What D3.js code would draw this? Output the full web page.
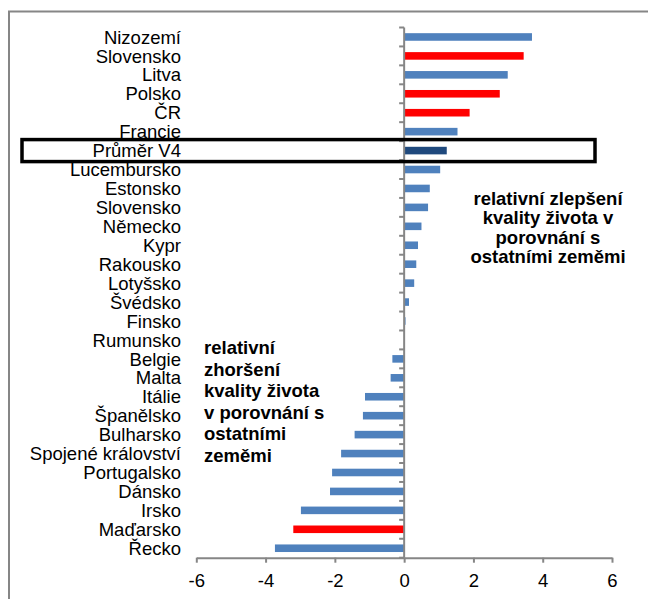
<!DOCTYPE html>
<html>
<head>
<meta charset="utf-8">
<script src="https://cdn.jsdelivr.net/npm/d3@7"></script>
<style>
  body { margin: 0; background: #fff; }
  text { font-family: "Liberation Sans", Arial, sans-serif; }
</style>
</head>
<body>
<div class="chart"></div>
<script>
// zeme shora dolu, jak jsou v grafu
var categories = ["Nizozemí", "Slovensko", "Litva", "Polsko", "ČR", "Francie", "Průměr V4",
  "Lucembursko", "Estonsko", "Slovensko", "Německo", "Kypr", "Rakousko", "Lotyšsko",
  "Švédsko", "Finsko", "Rumunsko", "Belgie", "Malta", "Itálie", "Španělsko", "Bulharsko",
  "Spojené království", "Portugalsko", "Dánsko", "Irsko", "Maďarsko", "Řecko"];

var values = [3.69, 3.45, 2.99, 2.76, 1.89, 1.54, 1.23,
  1.04, 0.74, 0.69, 0.50, 0.40, 0.35, 0.29,
  0.14, 0.04, 0, -0.34, -0.39, -1.13, -1.19, -1.43,
  -1.82, -2.08, -2.14, -2.98, -3.20, -3.73];

// v4 = cervene, avg = prumer V4
var groups = ["eu", "v4", "eu", "v4", "v4", "eu", "avg",
  "eu", "eu", "eu", "eu", "eu", "eu", "eu",
  "eu", "eu", "eu", "eu", "eu", "eu", "eu", "eu",
  "eu", "eu", "eu", "eu", "v4", "eu"];

var xTicks = [-6, -4, -2, 0, 2, 4, 6];

var noteRight = ["relativní zlepšení", "kvality života v", "porovnání s", "ostatními zeměmi"];
var noteLeft = ["relativní", "zhoršení", "kvality života", "v porovnání s", "ostatními", "zeměmi"];

var width = 648,
    height = 599,
    plot = {left: 196.3, right: 612, top: 27.5, bottom: 557.7},
    axisColor = "#868686",
    fontSize = 18.5;

var svg = d3.select(".chart").append("svg")
  .attr("width", width)
  .attr("height", height);

// ramecek grafu (pravy a spodni okraj je mimo obrazek)
svg.append("path")
  .attr("d", `M9,${height + 5}V11.5H${width + 5}`)
  .attr("fill", "none")
  .attr("stroke", axisColor)
  .attr("stroke-width", 2);

const x = d3.scaleLinear()
  .domain([-6, 6])
  .range([plot.left, plot.right]);

const y = d3.scaleBand()
  .domain(d3.range(categories.length))
  .range([plot.top, plot.bottom])
  .paddingInner(0.6)
  .paddingOuter(0.3);

const color = d3.scaleOrdinal()
  .domain(["eu", "v4", "avg"])
  .range(["#4F81BD", "#FF0000", "#1F497D"]);

// sloupce
svg.append("g")
  .attr("class", "bars")
  .selectAll("rect")
  .data(values)
  .enter().append("rect")
  .attr("x", d => x(Math.min(0, d)))
  .attr("y", (d, i) => y(i))
  .attr("width", d => Math.abs(x(d) - x(0)))
  .attr("height", y.bandwidth())
  .attr("fill", (d, i) => color(groups[i]));

// osa x
var xAxis = svg.append("g")
  .attr("transform", `translate(0, ${plot.bottom})`)
  .call(d3.axisBottom(x)
    .tickValues(xTicks)
    .tickSize(5)
    .tickSizeOuter(0)
    .tickPadding(11)
    .tickFormat(d => String(d)));

xAxis.select(".domain").attr("stroke", axisColor).attr("stroke-width", 2);
xAxis.selectAll(".tick line").attr("stroke", axisColor).attr("stroke-width", 2);
xAxis.selectAll(".tick text")
  .attr("fill", "#000")
  .style("font-size", fontSize + "px")
  .style("font-family", '"Liberation Sans", Arial, sans-serif');

// svisla osa v nule, carky mezi kategoriemi
var step = y.step();
var yAxis = svg.append("g").attr("class", "y-axis");

yAxis.append("line")
  .attr("x1", x(0)).attr("x2", x(0))
  .attr("y1", plot.top).attr("y2", plot.bottom)
  .attr("stroke", axisColor)
  .attr("stroke-width", 2);

yAxis.selectAll(".tick")
  .data(d3.range(categories.length + 1))
  .enter().append("line")
  .attr("class", "tick")
  .attr("x1", x(0) - 5).attr("x2", x(0))
  .attr("y1", i => plot.top + i * step)
  .attr("y2", i => plot.top + i * step)
  .attr("stroke", axisColor)
  .attr("stroke-width", 2);

// popisky zemi
svg.append("g")
  .attr("class", "labels")
  .selectAll("text")
  .data(categories)
  .enter().append("text")
  .attr("x", 181)
  .attr("y", (d, i) => y(i) + y.bandwidth() / 2)
  .attr("dy", "0.36em")
  .attr("text-anchor", "end")
  .style("font-size", fontSize + "px")
  .text(d => d);

// ramecek kolem prumeru V4
var avgIndex = categories.indexOf("Průměr V4");
svg.append("rect")
  .attr("x", 22)
  .attr("y", y(avgIndex) + y.bandwidth() / 2 - 11)
  .attr("width", 573)
  .attr("height", 22)
  .attr("fill", "none")
  .attr("stroke", "#000")
  .attr("stroke-width", 3.5);

// poznamky
svg.append("text")
  .attr("text-anchor", "middle")
  .style("font-size", fontSize + "px")
  .style("font-weight", "bold")
  .selectAll("tspan")
  .data(noteRight)
  .enter().append("tspan")
  .attr("x", 548)
  .attr("y", (d, i) => 204.5 + i * 19.5)
  .text(d => d);

svg.append("text")
  .attr("text-anchor", "start")
  .style("font-size", fontSize + "px")
  .style("font-weight", "bold")
  .selectAll("tspan")
  .data(noteLeft)
  .enter().append("tspan")
  .attr("x", 204)
  .attr("y", (d, i) => 354 + i * 21.5)
  .text(d => d);
</script>
</body>
</html>
